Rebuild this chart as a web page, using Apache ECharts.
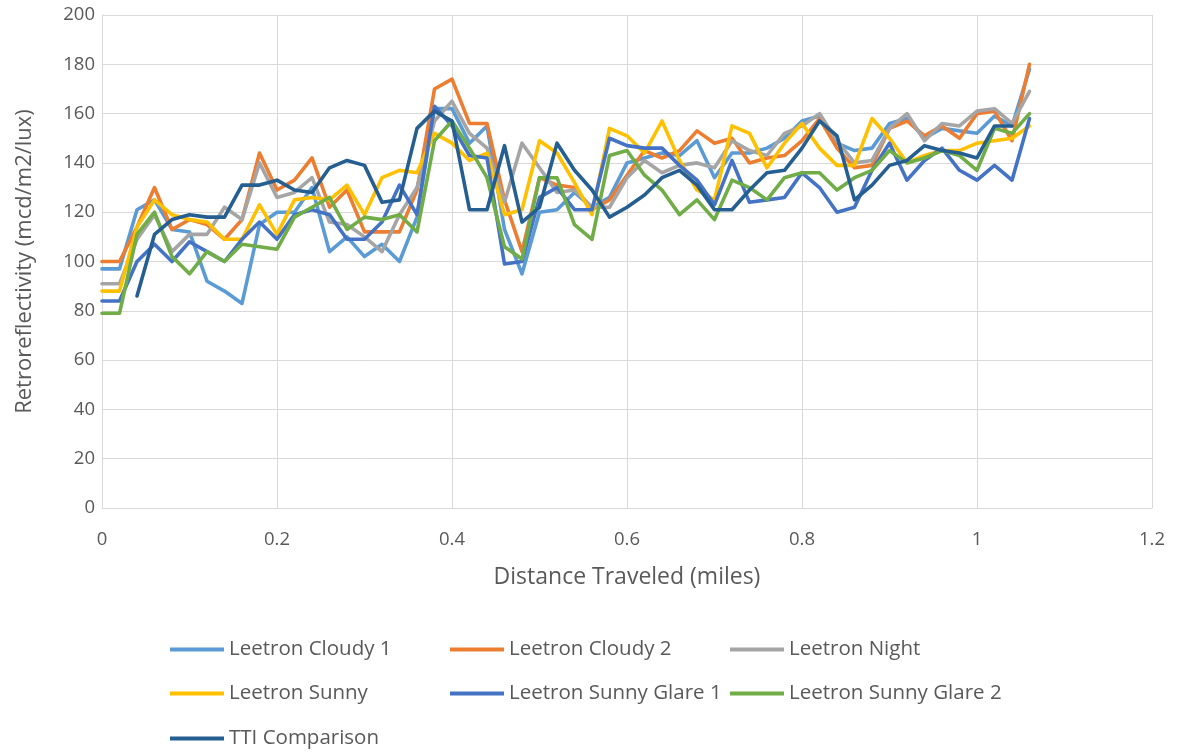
<!DOCTYPE html>
<html>
<head>
<meta charset="utf-8">
<script src="https://cdn.jsdelivr.net/npm/echarts@6/dist/echarts.min.js"></script>
<style>
  html, body { margin: 0; padding: 0; background: #ffffff; }
  #chart { width: 1177px; height: 755px; }
</style>
</head>
<body>
<div id="chart"></div>
<script>
// Distance along the route (miles)
const distance = [
  0.00, 0.02, 0.04, 0.06, 0.08, 0.10, 0.12, 0.14, 0.16, 0.18,
  0.20, 0.22, 0.24, 0.26, 0.28, 0.30, 0.32, 0.34, 0.36, 0.38,
  0.40, 0.42, 0.44, 0.46, 0.48, 0.50, 0.52, 0.54, 0.56, 0.58,
  0.60, 0.62, 0.64, 0.66, 0.68, 0.70, 0.72, 0.74, 0.76, 0.78,
  0.80, 0.82, 0.84, 0.86, 0.88, 0.90, 0.92, 0.94, 0.96, 0.98,
  1.00, 1.02, 1.04, 1.06
];

// Retroreflectivity readings (mcd/m2/lux)
const cloudy1 = [
  97, 97, 121, 125, 113, 112, 92, 88, 83, 115,
  120, 120, 130, 104, 110, 102, 107, 100, 118, 162,
  162, 148, 155, 113, 95, 120, 121, 128, 122, 126,
  140, 142, 144, 143, 149, 134, 144, 144, 146, 150,
  157, 159, 148, 145, 146, 156, 158, 150, 154, 153,
  152, 159, 155, 178
];
const cloudy2 = [
  100, 100, 114, 130, 113, 117, 115, 109, 117, 144,
  129, 133, 142, 122, 129, 112, 112, 112, 129, 170,
  174, 156, 156, 125, 104, 134, 131, 130, 121, 125,
  135, 145, 142, 145, 153, 148, 150, 140, 142, 143,
  149, 158, 146, 138, 139, 154, 157, 151, 155, 150,
  160, 161, 149, 180
];
const night = [
  91, 91, 109, 119, 104, 111, 111, 122, 117, 140,
  126, 128, 134, 116, 115, 110, 104, 119, 130, 157,
  165, 152, 146, 124, 148, 138, 128, 129, 122, 122,
  134, 141, 136, 139, 140, 138, 149, 145, 143, 152,
  155, 160, 149, 140, 141, 154, 160, 149, 156, 155,
  161, 162, 156, 169
];
const sunny = [
  88, 88, 114, 125, 119, 117, 116, 109, 109, 123,
  111, 125, 126, 125, 131, 119, 134, 137, 136, 152,
  148, 141, 144, 119, 121, 149, 144, 132, 119, 154,
  151, 144, 157, 141, 129, 125, 155, 152, 138, 148,
  156, 146, 139, 139, 158, 150, 140, 143, 145, 145,
  148, 149, 150, 155
];
const sunnyGlare1 = [
  84, 84, 100, 107, 100, 108, 104, 100, 109, 116,
  109, 119, 121, 119, 109, 109, 116, 131, 119, 163,
  155, 143, 142, 99, 100, 126, 130, 121, 121, 150,
  147, 146, 146, 139, 133, 123, 141, 124, 125, 126,
  136, 130, 120, 122, 137, 148, 133, 141, 146, 137,
  133, 139, 133, 158
];
const sunnyGlare2 = [
  79, 79, 111, 120, 102, 95, 104, 100, 107, 106,
  105, 118, 122, 126, 113, 118, 117, 119, 112, 149,
  157, 146, 134, 106, 101, 134, 134, 115, 109, 143,
  145, 135, 129, 119, 125, 117, 133, 130, 125, 134,
  136, 136, 129, 134, 137, 145, 140, 142, 145, 143,
  137, 154, 152, 160
];
const ttiComparison = [
  null, null, 86, 111, 117, 119, 118, 118, 131, 131,
  133, 129, 128, 138, 141, 139, 124, 125, 154, 161,
  157, 121, 121, 147, 116, 122, 148, 137, 129, 118,
  122, 127, 134, 137, 131, 121, 121, 129, 136, 137,
  146, 157, 151, 125, 131, 139, 141, 147, 145, 144,
  142, 155, 155, null
];

const seriesNames = [
  'Leetron Cloudy 1', 'Leetron Cloudy 2', 'Leetron Night',
  'Leetron Sunny', 'Leetron Sunny Glare 1', 'Leetron Sunny Glare 2',
  'TTI Comparison'
];
const seriesValues = [cloudy1, cloudy2, night, sunny, sunnyGlare1, sunnyGlare2, ttiComparison];
const seriesColors = ['#5B9BD5', '#ED7D31', '#A5A5A5', '#FFC000', '#4472C4', '#70AD47', '#255E91'];

const FONT = '"Open Sans", "Noto Sans", sans-serif';
const TEXT_COLOR = '#595959';

const series = seriesNames.map((name, i) => ({
  name: name,
  type: 'line',
  data: distance.map((d, k) => [d, seriesValues[i][k]]),
  showSymbol: false,
  symbol: 'none',
  connectNulls: false,
  lineStyle: { width: 3.6, color: seriesColors[i], cap: 'round', join: 'round' },
  itemStyle: { color: seriesColors[i] },
  emphasis: { disabled: true },
  animation: false
}));

// Legend laid out as a 3-column grid, one legend block per entry
const legendLeft = [165, 445, 725];
const legendTop = [634, 678, 723];
const legends = seriesNames.map((name, i) => ({
  data: [name],
  left: legendLeft[i % 3],
  top: legendTop[Math.floor(i / 3)],
  icon: 'rect',
  itemWidth: 54,
  itemHeight: 4,
  itemGap: 0,
  selectedMode: false,
  textStyle: { fontFamily: FONT, fontSize: 20.5, color: TEXT_COLOR }
}));

const chart = echarts.init(document.getElementById('chart'), null, { renderer: 'canvas' });
chart.setOption({
  backgroundColor: '#ffffff',
  animation: false,
  grid: { left: 102, right: 25, top: 15, bottom: 247, containLabel: false },
  legend: legends,
  xAxis: {
    type: 'value',
    min: 0,
    max: 1.2,
    interval: 0.2,
    name: 'Distance Traveled (miles)',
    nameLocation: 'middle',
    nameGap: 58,
    nameTextStyle: { fontFamily: FONT, fontSize: 23, color: TEXT_COLOR },
    axisLine: { show: true, lineStyle: { color: '#D9D9D9', width: 1 } },
    axisTick: { show: false },
    axisLabel: { fontFamily: FONT, fontSize: 18.5, color: TEXT_COLOR, margin: 22 },
    splitLine: { show: true, lineStyle: { color: '#D9D9D9', width: 1 } }
  },
  yAxis: {
    type: 'value',
    min: 0,
    max: 200,
    interval: 20,
    name: 'Retroreflectivity (mcd/m2/lux)',
    nameLocation: 'middle',
    nameGap: 66,
    nameRotate: 90,
    nameTextStyle: { fontFamily: FONT, fontSize: 22, color: TEXT_COLOR },
    axisLine: { show: true, lineStyle: { color: '#D9D9D9', width: 1 } },
    axisTick: { show: false },
    axisLabel: { fontFamily: FONT, fontSize: 18.5, color: TEXT_COLOR, margin: 7 },
    splitLine: { show: true, lineStyle: { color: '#D9D9D9', width: 1 } }
  },
  series: series
});
</script>
</body>
</html>
